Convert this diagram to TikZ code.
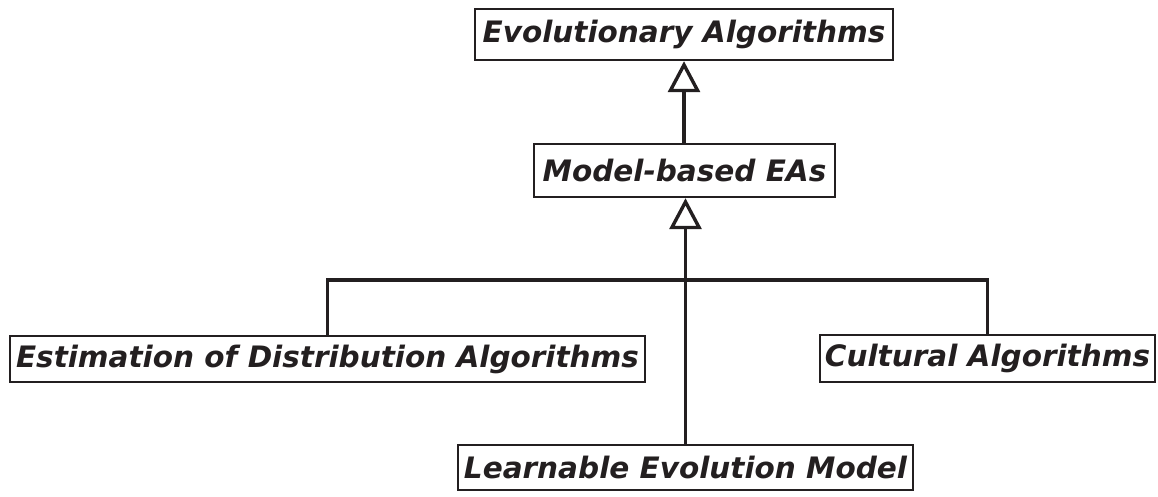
\documentclass[tikz,border=0pt]{standalone}
\usepackage{fontspec}
\setmainfont{DejaVu Sans}
\usetikzlibrary{arrows.meta}
\definecolor{ink}{HTML}{231F20}
\begin{document}
\begin{tikzpicture}[x=1pt,y=-1pt,
  box/.style={draw=ink,line width=2.4pt,inner sep=0pt,align=center,text=ink,
    font=\fontsize{29.5}{34}\selectfont\bfseries\itshape},
  conn/.style={draw=ink,line width=3.4pt},
  inh/.style={conn,-{Triangle[open,length=31pt,width=32pt,line width=3.4pt]}}]
\useasboundingbox (0,0) rectangle (1158,496);
\node[box,minimum width=418pt,minimum height=51pt] (ea) at (684,34.5) {Evolutionary Algorithms};
\node[box,minimum width=301pt,minimum height=53pt] (mb) at (684.5,170.5) {Model-based EAs};
\node[box,minimum width=635pt,minimum height=46pt] (eda) at (327.5,359) {Estimation of Distribution Algorithms};
\node[box,minimum width=335pt,minimum height=47pt] (ca) at (987.5,358.5) {Cultural Algorithms};
\node[box,minimum width=455pt,minimum height=45pt] (lem) at (685.5,467.5) {Learnable Evolution Model};
\coordinate (j) at (685,280);
\draw[inh] (mb.north -| ea.south) -- (ea.south);
\draw[inh] (lem.north) -- (lem.north |- mb.south);
\draw[conn] (eda.north) |- (j) -| (ca.north);
\end{tikzpicture}
\end{document}
